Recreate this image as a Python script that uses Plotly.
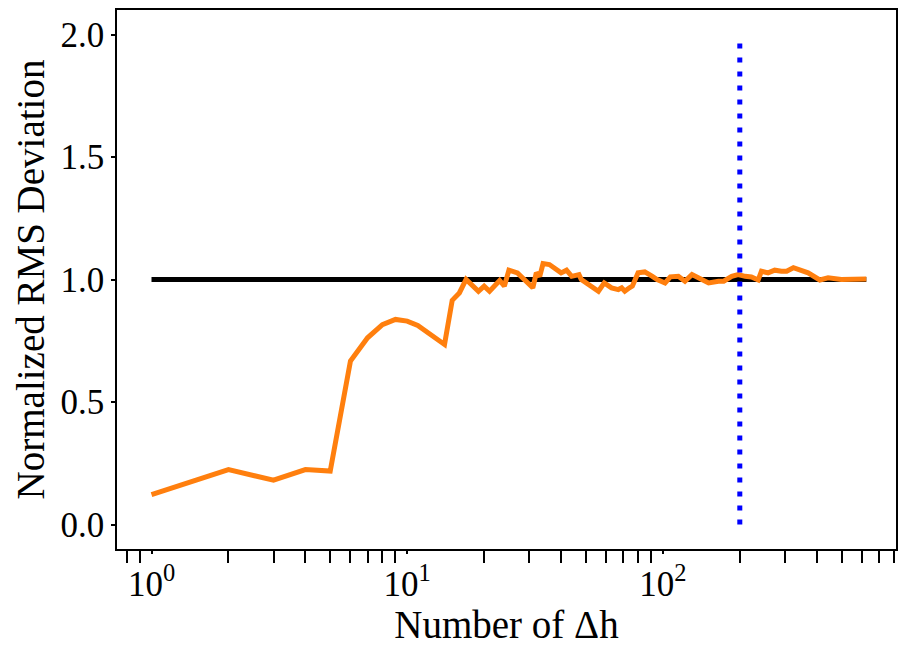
import plotly.graph_objects as go

# Orange series: normalized RMS deviation vs number of Δh
n_dh = [1, 2, 3, 4, 5, 6, 7, 8, 9, 10, 11, 12, 13, 14, 15, 16, 17,
        19, 20, 21, 23, 24, 25, 27, 31, 32, 33, 34, 36, 38, 40, 42, 44, 47, 48,
        56, 59, 63, 67, 69, 71, 74, 76, 80, 85, 91, 95, 102, 107, 115, 122,
        130, 138, 151, 165, 173, 186, 197, 210, 222, 236, 243, 258, 274, 291,
        305, 324, 349, 370, 411, 443, 499, 546, 625]
rms_dev = [0.122, 0.224, 0.181, 0.224, 0.218, 0.667, 0.762, 0.816, 0.837, 0.830,
           0.812, 0.785, 0.755, 0.735, 0.915, 0.945, 1.000,
           0.952, 0.973, 0.952, 0.996, 0.973, 1.038, 1.027, 0.966, 1.027, 1.013,
           1.065, 1.061, 1.041, 1.027, 1.038, 1.013, 1.020, 1.000,
           0.952, 0.986, 0.966, 0.959, 0.966, 0.952, 0.966, 0.973, 1.027, 1.031,
           1.013, 1.000, 0.986, 1.011, 1.013, 0.993,
           1.020, 1.007, 0.986, 0.993, 0.993, 1.013, 1.020, 1.013, 1.010, 0.998,
           1.034, 1.027, 1.038, 1.034,
           1.034, 1.048, 1.038, 1.027, 0.998, 1.007, 1.000, 1.000, 1.002]

# Reference line at 1 and vertical marker
ref_x = [1, 625]
ref_y = [1.0, 1.0]
vline_x = [200, 200]
vline_y = [0.0, 2.0]

# Axis ticks
x_major = [1, 10, 100]
x_major_text = ["10<sup>0</sup>", "10<sup>1</sup>", "10<sup>2</sup>"]
x_minor = [0.8, 0.9, 2, 3, 4, 5, 6, 7, 8, 9, 20, 30, 40, 50, 60, 70, 80, 90,
           200, 300, 400, 500, 600, 700, 800]
y_ticks = [0.0, 0.5, 1.0, 1.5, 2.0]

FONT = "Liberation Serif"

fig = go.Figure()
fig.add_trace(go.Scatter(x=ref_x, y=ref_y, mode="lines",
                         line=dict(color="black", width=5), showlegend=False))
fig.add_trace(go.Scatter(x=n_dh, y=rms_dev, mode="lines",
                         line=dict(color="#ff7f0e", width=5), showlegend=False))
fig.add_trace(go.Scatter(x=vline_x, y=vline_y, mode="lines",
                         line=dict(color="#0000ff", width=5, dash="5px,9px"),
                         showlegend=False))

fig.update_layout(
    width=900, height=646,
    margin=dict(l=117, r=2, t=10, b=97),
    plot_bgcolor="white", paper_bgcolor="white",
    font=dict(family=FONT, size=35, color="black"),
    showlegend=False,
)
fig.update_xaxes(
    type="log", range=[-0.135, 2.912],
    tickmode="array", tickvals=x_major, ticktext=x_major_text,
    ticks="outside", ticklen=3, tickwidth=2, tickcolor="black",
    minor=dict(tickmode="array", tickvals=x_minor, ticks="outside",
               ticklen=12, tickwidth=1.5, tickcolor="black"),
    showline=True, linecolor="black", linewidth=1.5, mirror=True,
    showgrid=False, zeroline=False,
    tickfont=dict(family=FONT, size=35),
    title=dict(text="Number of Δh", font=dict(family=FONT, size=39), standoff=6),
)
fig.update_yaxes(
    range=[-0.1, 2.1],
    tickmode="array", tickvals=y_ticks, tickformat=".1f",
    ticks="outside", ticklen=4, tickwidth=2, tickcolor="black",
    showline=True, linecolor="black", linewidth=1.5, mirror=True,
    showgrid=False, zeroline=False,
    tickfont=dict(family=FONT, size=35),
    title=dict(text="Normalized RMS Deviation", font=dict(family=FONT, size=39), standoff=4),
)

fig.write_html("out.html")
